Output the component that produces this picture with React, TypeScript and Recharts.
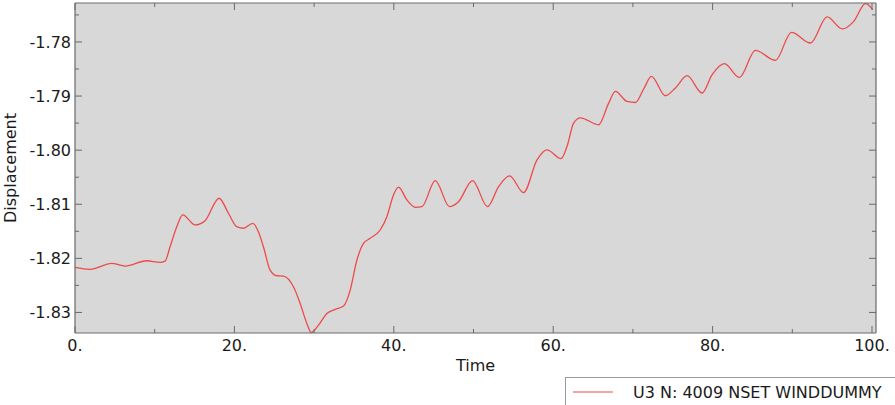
import React from 'react';
import { LineChart, Line, XAxis, YAxis, CartesianGrid, Legend, Label } from 'recharts';

// ---- data ----
const timeValues = [
  0, 1.88, 4.61, 6.28, 9.0, 10.67, 11.3, 11.93, 12.77, 13.52, 15.07, 16.32, 18.08, 19.25,
  20.3, 21.13, 22.31, 23.01, 23.64, 24.48, 25.32, 26.15, 27.41, 28.25, 29.09, 29.63, 30.55,
  31.6, 32.64, 33.69, 34.53, 35.37, 36.2, 37.04, 38.29, 39.13, 39.96, 40.59, 41.64, 42.69,
  43.53, 45.2, 46.99, 48.12, 49.88, 51.76, 53.15, 54.53, 56.28, 57.97, 59.22, 60.98, 61.73,
  62.56, 63.4, 65.7, 66.96, 67.8, 69.27, 70.31, 71.35, 72.32, 74.07, 75.33, 76.8, 78.68,
  79.94, 81.48, 83.36, 85.37, 87.88, 89.89, 92.28, 94.37, 96.26, 97.71, 99.18, 100.1,
];
const u3Values = [
  -1.82167, -1.82204, -1.82093, -1.82143, -1.82044, -1.82074, -1.8205, -1.81785, -1.81415,
  -1.81198, -1.81383, -1.81304, -1.80889, -1.81167, -1.81415, -1.81444, -1.81352, -1.81507,
  -1.81785, -1.82217, -1.82322, -1.82328, -1.82526, -1.82833, -1.83204, -1.8337, -1.83235,
  -1.83019, -1.82944, -1.82883, -1.82587, -1.82031, -1.81722, -1.8163, -1.81476, -1.8123,
  -1.80828, -1.80685, -1.8092, -1.81056, -1.81044, -1.80563, -1.81044, -1.80952, -1.80563,
  -1.81044, -1.80674, -1.80476, -1.80785, -1.8018, -1.79994, -1.80156, -1.79933, -1.795,
  -1.79402, -1.79531, -1.7913, -1.78915, -1.791, -1.79119, -1.7887, -1.78637, -1.78994,
  -1.78852, -1.78624, -1.78944, -1.78606, -1.78402, -1.78656, -1.78156, -1.78341, -1.77822,
  -1.78019, -1.77537, -1.77759, -1.77619, -1.77291, -1.77402,
];
const xTicks = [0, 10, 20, 30, 40, 50, 60, 70, 80, 90, 100];
const yTicks = [-1.83, -1.825, -1.82, -1.815, -1.81, -1.805, -1.8, -1.795, -1.79, -1.785, -1.78, -1.775];
const xDomain = [0, 100.5];
const yDomain = [-1.8338, -1.7728];
const seriesName = 'U3 N: 4009 NSET WINDDUMMY';
const xTitle = 'Time';
const yTitle = 'Displacement';

const data = timeValues.map((t, i) => ({ t, u3: u3Values[i] }));

// ---- style ----
const FONT = '"DejaVu Sans", Verdana, sans-serif';
const FS = 16;
const TEXT = '#1a1a1a';
const AXIS = '#6a6a6a';
const BG = '#d8d8d8';
const RED = '#ee4a4a';

const isMajorX = (v: number) => Math.round(v) % 20 === 0;
const isMajorY = (v: number) => Math.abs(Math.round(v * 100) - v * 100) < 1e-6;

const BottomTick = (props: any) => {
  const { x, y, payload } = props;
  const major = isMajorX(payload.value);
  return (
    <g>
      <line x1={x} x2={x} y1={y} y2={y - (major ? 7 : 4)} stroke={AXIS} strokeWidth={1} />
      {major && (
        <text x={x} y={y + 18} textAnchor="middle" fill={TEXT} fontSize={FS} fontFamily={FONT}>
          {`${payload.value}.`}
        </text>
      )}
    </g>
  );
};

const TopTick = (props: any) => {
  const { x, y, payload } = props;
  const major = isMajorX(payload.value);
  return <line x1={x} x2={x} y1={y} y2={y + (major ? 7 : 4)} stroke={AXIS} strokeWidth={1} />;
};

const LeftTick = (props: any) => {
  const { x, y, payload } = props;
  const major = isMajorY(payload.value);
  return (
    <g>
      <line x1={x} x2={x + (major ? 7 : 4)} y1={y} y2={y} stroke={AXIS} strokeWidth={1} />
      {major && (
        <text x={x - 4} y={y} dy="0.36em" textAnchor="end" fill={TEXT} fontSize={FS} fontFamily={FONT}>
          {Number(payload.value).toFixed(2)}
        </text>
      )}
    </g>
  );
};

const RightTick = (props: any) => {
  const { x, y, payload } = props;
  const major = isMajorY(payload.value);
  return <line x1={x} x2={x - (major ? 7 : 4)} y1={y} y2={y} stroke={AXIS} strokeWidth={1} />;
};

const LegendBox = (props: any) => {
  const item = (props.payload || [])[0];
  const name = item ? item.value : seriesName;
  const color = item ? item.color : RED;
  return (
    <div
      style={{
        width: 330,
        height: 28,
        boxSizing: 'border-box',
        borderLeft: '1px solid #9a9a9a',
        borderTop: '1px solid #9a9a9a',
        background: '#ffffff',
        overflow: 'hidden',
      }}
    >
      <svg width={329} height={27} style={{ display: 'block' }}>
        <line x1={7} x2={47} y1={14} y2={14} stroke={color} strokeWidth={1.2} />
        <text x={67} y={19.5} fill={TEXT} fontSize={FS} fontFamily={FONT}>
          {name}
        </text>
      </svg>
    </div>
  );
};

export default function App() {
  return (
    <div style={{ position: 'absolute', left: 0, top: 0, width: 895, height: 405, overflow: 'hidden', background: '#fff' }}>
      <LineChart width={895} height={405} data={data} margin={{ top: 3, right: 19, bottom: 0, left: 0 }}>
        <CartesianGrid horizontal={false} vertical={false} fill={BG} />
        <XAxis
          dataKey="t"
          type="number"
          domain={xDomain}
          ticks={xTicks}
          allowDataOverflow
          height={44}
          tickSize={0}
          tickMargin={0}
          tickLine={false}
          tick={<BottomTick />}
          axisLine={{ stroke: AXIS, strokeWidth: 1.2 }}
          interval={0}
        >
          <Label value={xTitle} position="insideBottom" offset={6} fill={TEXT} fontSize={FS} fontFamily={FONT} />
        </XAxis>
        <XAxis
          xAxisId="top"
          dataKey="t"
          type="number"
          orientation="top"
          mirror
          domain={xDomain}
          ticks={xTicks}
          allowDataOverflow
          height={1}
          tickSize={0}
          tickMargin={0}
          tickLine={false}
          tick={<TopTick />}
          axisLine={{ stroke: AXIS, strokeWidth: 1.2 }}
          interval={0}
        />
        <YAxis
          type="number"
          domain={yDomain}
          ticks={yTicks}
          allowDataOverflow
          width={75}
          tickSize={0}
          tickMargin={0}
          tickLine={false}
          tick={<LeftTick />}
          axisLine={{ stroke: AXIS, strokeWidth: 1.2 }}
          interval={0}
        >
          <Label
            value={yTitle}
            angle={-90}
            position="insideLeft"
            offset={10}
            fill={TEXT}
            fontSize={FS}
            fontFamily={FONT}
            style={{ textAnchor: 'middle' }}
          />
        </YAxis>
        <YAxis
          yAxisId="right"
          type="number"
          orientation="right"
          mirror
          domain={yDomain}
          ticks={yTicks}
          allowDataOverflow
          width={1}
          tickSize={0}
          tickMargin={0}
          tickLine={false}
          tick={<RightTick />}
          axisLine={{ stroke: AXIS, strokeWidth: 1.2 }}
          interval={0}
        />
        <Legend
          verticalAlign="bottom"
          content={<LegendBox />}
          wrapperStyle={{ left: 565, bottom: 0, width: 330, height: 28 }}
        />
        <Line
          xAxisId="top"
          yAxisId="right"
          dataKey="u3"
          stroke="transparent"
          dot={false}
          activeDot={false}
          legendType="none"
          isAnimationActive={false}
        />
        <Line
          type="monotone"
          dataKey="u3"
          name={seriesName}
          stroke={RED}
          strokeWidth={1.3}
          dot={false}
          activeDot={false}
          isAnimationActive={false}
        />
      </LineChart>
    </div>
  );
}
